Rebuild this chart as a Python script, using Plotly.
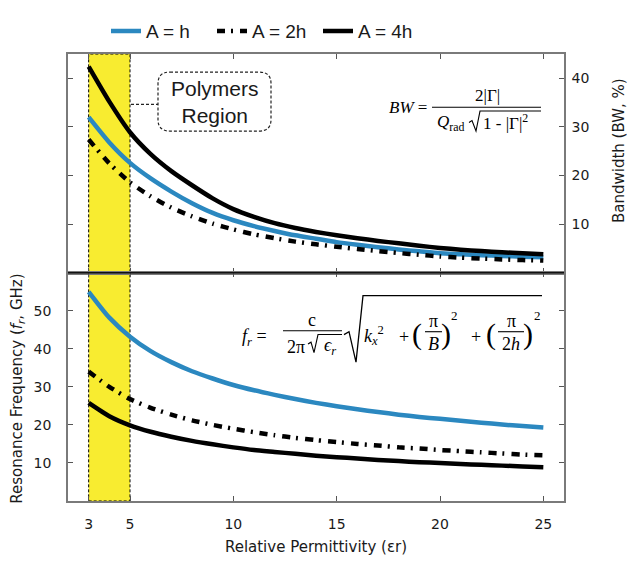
import plotly.graph_objects as go
from plotly.subplots import make_subplots

# ---------------- data ----------------
eps = list(range(3, 26))
bw_h = [32.0, 26.8, 22.6, 19.4, 16.7, 14.3, 12.3, 10.8, 9.6, 8.6, 7.7, 7.0, 6.3,
        5.75, 5.25, 4.8, 4.4, 4.0, 3.8, 3.6, 3.45, 3.3, 3.2]
bw_2h = [27.4, 22.5, 18.6, 15.7, 13.4, 11.6, 10.1, 8.9, 7.9, 7.1, 6.4, 5.85, 5.35,
         4.9, 4.45, 4.05, 3.7, 3.35, 3.1, 2.9, 2.75, 2.6, 2.5]
bw_4h = [42.4, 35.2, 28.9, 24.4, 20.9, 18.0, 15.3, 13.1, 11.5, 10.2, 9.2, 8.4, 7.7,
         7.1, 6.55, 6.05, 5.55, 5.1, 4.75, 4.45, 4.2, 4.0, 3.8]
fr_h = [55.0, 48.2, 43.2, 39.4, 36.5, 34.1, 32.2, 30.5, 29.1, 27.9, 26.8, 25.8, 24.9,
        24.1, 23.4, 22.7, 22.1, 21.6, 21.1, 20.6, 20.1, 19.7, 19.3]
fr_2h = [34.0, 30.0, 26.8, 24.5, 22.7, 21.2, 20.0, 19.0, 18.1, 17.3, 16.6, 16.0, 15.5,
         15.0, 14.6, 14.1, 13.8, 13.4, 13.1, 12.8, 12.5, 12.2, 12.0]
fr_4h = [25.8, 22.3, 19.9, 18.2, 16.9, 15.8, 14.9, 14.1, 13.4, 12.9, 12.4, 11.9, 11.5,
         11.2, 10.8, 10.5, 10.2, 10.0, 9.7, 9.5, 9.3, 9.1, 8.9]
series_names = ["A = h", "A = 2h", "A = 4h"]
x_ticks = [3, 5, 10, 15, 20, 25]
bw_ticks = [10, 20, 30, 40]
fr_ticks = [10, 20, 30, 40, 50]
polymer_region = [3, 5]

# ---------------- layout helpers (pixel -> paper) ----------------
W, H = 627, 565
PL, PR, PT, PB = 68, 564, 38, 508
DIV = 268


def px(x):
    return (x - PL) / (PR - PL)


def py(y):
    return (PB - y) / (PB - PT)


ydiv = py(DIV)

BLUE = "#2B88C0"
DASHDOT = "8px,6px,2px,7px"
LW = 4.5
styles = [dict(color=BLUE, width=LW, shape="spline", smoothing=0.6),
          dict(color="black", width=LW, dash=DASHDOT, shape="spline", smoothing=0.6),
          dict(color="black", width=LW, shape="spline", smoothing=0.6)]

fig = make_subplots(rows=2, cols=1, shared_xaxes=True, vertical_spacing=0)

for name, ys, st in zip(series_names, [bw_h, bw_2h, bw_4h], styles):
    fig.add_trace(go.Scatter(x=eps, y=ys, name=name, mode="lines", line=st,
                             showlegend=True, legendgroup=name), row=1, col=1)
for name, ys, st in zip(series_names, [fr_h, fr_2h, fr_4h], styles):
    fig.add_trace(go.Scatter(x=eps, y=ys, name=name, mode="lines", line=st,
                             showlegend=False, legendgroup=name), row=2, col=1)

tickfont = dict(family="DejaVu Sans", size=14, color="#1a1a1a")
axcommon = dict(showline=True, linecolor="#7a7a7a", linewidth=1.5, mirror="ticks",
                ticks="inside", ticklen=5, tickwidth=1, tickcolor="#555",
                showgrid=False, zeroline=False, tickfont=tickfont)

fig.update_xaxes(range=[2, 26], tickvals=x_ticks, **axcommon)
fig.update_xaxes(showticklabels=False, row=1, col=1)
fig.update_xaxes(ticklabelstandoff=9, row=2, col=1,
                 title=dict(text="Relative Permittivity (εr)",
                            font=dict(family="DejaVu Sans", size=15, color="#1a1a1a"),
                            standoff=11))
fig.update_yaxes(range=[0, 45], tickvals=bw_ticks, side="right", ticklabelstandoff=3,
                 domain=[ydiv, 1], row=1, col=1, **axcommon)
fig.update_yaxes(range=[0, 60], tickvals=fr_ticks, side="left", ticklabelstandoff=12,
                 domain=[0, ydiv], row=2, col=1, **axcommon)

shapes = []
# polymers region (yellow band through both panels)
shapes.append(dict(type="rect", xref="x", yref="paper", x0=polymer_region[0],
                   x1=polymer_region[1], y0=0, y1=1, layer="below",
                   fillcolor="#F8EC30", line=dict(color="black", width=1, dash="3px,2px")))
# divider between panels
shapes.append(dict(type="line", xref="paper", yref="paper", x0=0, x1=1, y0=ydiv, y1=ydiv,
                   line=dict(color="#111", width=1.5)))


# rounded dashed box
def rounded(x0, y0, x1, y1, r):
    return (f"M {px(x0 + r)} {py(y0)} L {px(x1 - r)} {py(y0)} "
            f"Q {px(x1)} {py(y0)} {px(x1)} {py(y0 + r)} L {px(x1)} {py(y1 - r)} "
            f"Q {px(x1)} {py(y1)} {px(x1 - r)} {py(y1)} L {px(x0 + r)} {py(y1)} "
            f"Q {px(x0)} {py(y1)} {px(x0)} {py(y1 - r)} L {px(x0)} {py(y0 + r)} "
            f"Q {px(x0)} {py(y0)} {px(x0 + r)} {py(y0)} Z")


shapes.append(dict(type="path", xref="paper", yref="paper", path=rounded(158, 57, 271, 119, 12),
                   line=dict(color="#222", width=1.2, dash="3px,2px")))
shapes.append(dict(type="line", xref="paper", yref="paper", x0=px(131), x1=px(158),
                   y0=py(91), y1=py(91), line=dict(color="#222", width=1.2, dash="3px,2px")))


def path(pts):
    return "M " + " L ".join(f"{px(a)} {py(b)}" for a, b in pts)


def pline(x0, x1, y, w=1.1):
    shapes.append(dict(type="line", xref="paper", yref="paper", x0=px(x0), x1=px(x1),
                       y0=py(y), y1=py(y), line=dict(color="black", width=w)))


# formula 1 (bandwidth)
pline(432, 541, 94)
shapes.append(dict(type="path", xref="paper", yref="paper",
                   path=path([(469, 110), (472, 108), (476, 119), (480, 98), (541, 98)]),
                   line=dict(color="black", width=1.1)))
# formula 2 (resonance frequency)
pline(283, 342, 329)
shapes.append(dict(type="path", xref="paper", yref="paper",
                   path=path([(308, 343), (311, 341), (314, 352), (318, 333), (342, 333)]),
                   line=dict(color="black", width=1.1)))
shapes.append(dict(type="path", xref="paper", yref="paper",
                   path=path([(344, 333), (349, 330), (356, 362), (363, 292), (542, 292)]),
                   line=dict(color="black", width=1.3)))
pline(425, 442, 330)
pline(498, 524, 330)

ann = []


def txt(t, x, y, size=16, fam="Liberation Serif", xanchor="center", color="black", **kw):
    ann.append(dict(text=t, x=px(x), y=py(y), xref="paper", yref="paper", showarrow=False,
                    xanchor=xanchor, yanchor="middle",
                    font=dict(family=fam, size=size, color=color), **kw))


txt("Polymers<br>Region", 214.5, 88, size=21, fam="Liberation Sans", color="#1a1a1a")

# formula 1
txt("<i>BW</i> =", 408, 94, size=17)
txt("2|Γ|", 487, 82, size=17)
txt("<i>Q</i><sub>rad</sub>", 451, 111, size=17)
txt("1 - |Γ|<sup>2</sup>", 481, 110, size=17, xanchor="left")

# formula 2
F = 18
txt("<i>f</i><sub><i>r</i></sub> =", 254, 336, size=F)
txt("c", 312, 318, size=F)
txt("2π", 296, 346, size=F)
txt("<i>ϵ</i><sub><i>r</i></sub>", 330, 346, size=F)
txt("<i>k</i><sub><i>x</i></sub><sup>2</sup>", 362, 334, size=F, xanchor="left")
txt("+", 404, 336, size=F)
txt("(", 417, 332, size=30)
txt("π", 433, 319, size=F)
txt("<i>B</i>", 433, 343, size=F)
txt(")", 446, 332, size=30)
txt("2", 454, 313, size=13)
txt("+", 476, 336, size=F)
txt("(", 491, 332, size=30)
txt("π", 511, 319, size=F)
txt("2<i>h</i>", 511, 343, size=F)
txt(")", 528, 332, size=30)
txt("2", 537, 313, size=13)

# axis titles for y
txt("Resonance Frequency (<i>f</i><sub><i>r</i></sub>, GHz)", 18, 390, size=15,
    fam="DejaVu Sans", color="#1a1a1a", textangle=-90)
txt("Bandwidth (BW, %)", 619, 140, size=15, fam="DejaVu Sans", color="#1a1a1a",
    textangle=-90)

fig.update_layout(
    width=W, height=H,
    margin=dict(l=PL, r=W - PR, t=PT, b=H - PB),
    paper_bgcolor="white", plot_bgcolor="white",
    shapes=shapes, annotations=ann,
    legend=dict(orientation="h", x=px(106), xanchor="left", y=py(14), yanchor="middle",
                font=dict(family="Liberation Sans Narrow, Liberation Sans", size=19,
                          color="#1a1a1a"),
                itemwidth=30, entrywidth=61, entrywidthmode="pixels",
                bgcolor="rgba(0,0,0,0)"),
)

fig.write_html("out.html")
